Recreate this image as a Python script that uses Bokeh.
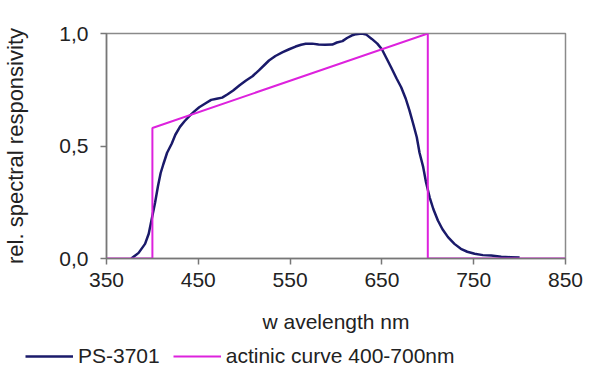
from bokeh.plotting import figure
from bokeh.layouts import column, row
from bokeh.models import FixedTicker, Legend, LegendItem
from bokeh.embed import file_html
from bokeh.resources import INLINE

# PS-3701 relative spectral responsivity
wl = [377, 385, 392, 396, 399, 403, 406, 409, 412, 416,
      421, 425, 430, 435, 441, 446, 451, 458, 464, 470,
      476, 482, 488, 495, 502, 509, 516, 522, 527, 534,
      542, 549, 556, 562, 567, 574, 581, 588, 596, 601,
      607, 612, 617, 622, 628, 633, 639, 645, 650, 655,
      660, 666, 671, 676, 680, 684, 688, 691, 695, 698,
      702, 706, 711, 716, 722, 729, 736, 743, 751, 760,
      769, 780, 790, 800]
resp = [0, 0.025, 0.065, 0.11, 0.17, 0.25, 0.32, 0.38, 0.42, 0.47,
        0.51, 0.55, 0.585, 0.61, 0.636, 0.655, 0.672, 0.69, 0.705, 0.71,
        0.715, 0.73, 0.747, 0.77, 0.791, 0.81, 0.836, 0.86, 0.88, 0.90,
        0.917, 0.93, 0.942, 0.95, 0.954, 0.955, 0.951, 0.95, 0.951, 0.96,
        0.966, 0.98, 0.991, 0.997, 1.0, 0.995, 0.976, 0.955, 0.93, 0.89,
        0.85, 0.80, 0.761, 0.71, 0.658, 0.60, 0.539, 0.47, 0.406, 0.34,
        0.272, 0.22, 0.169, 0.13, 0.095, 0.065, 0.043, 0.03, 0.021, 0.015,
        0.013, 0.008, 0.006, 0.004]

# actinic curve 400-700nm
act_wl = [350, 400, 400, 700, 700, 850]
act_val = [0, 0, 0.58, 1.0, 0, 0]

series_names = ["PS-3701", "actinic curve 400-700nm"]
x_ticks = [350, 450, 550, 650, 750, 850]
y_ticks = [0, 0.5, 1.0]
y_tick_labels = {0: "0,0", 0.5: "0,5", 1: "1,0"}

FONT = "Liberation Sans"
TXT = "#222222"
BLUE = "#1a1a6a"
MAGENTA = "#dd22dd"

p = figure(width=600, height=340, x_range=(350, 850), y_range=(0, 1),
           output_backend="svg", toolbar_location=None,
           min_border_left=103, min_border_right=35, min_border_top=33,
           min_border_bottom=82)

p.xgrid.visible = False
p.ygrid.visible = False
p.outline_line_color = "#8a8a8a"
p.outline_line_width = 1.5
p.background_fill_color = "white"
p.border_fill_color = "white"

p.line(wl, resp, line_color=BLUE, line_width=2.5)
p.line(act_wl, act_val, line_color=MAGENTA, line_width=2)

for ax in (p.xaxis[0], p.yaxis[0]):
    ax.axis_line_color = "#777777"
    ax.axis_line_width = 1.5
    ax.major_tick_line_color = "#777777"
    ax.major_tick_line_width = 1.5
    ax.major_tick_in = 0
    ax.major_tick_out = 6
    ax.minor_tick_line_color = None
    ax.major_label_text_font = FONT
    ax.major_label_text_font_size = "21px"
    ax.major_label_text_color = TXT
    ax.axis_label_text_font = FONT
    ax.axis_label_text_font_size = "21px"
    ax.axis_label_text_font_style = "normal"
    ax.axis_label_text_color = TXT

p.yaxis.axis_label_text_font_size = "22px"
p.xaxis.ticker = FixedTicker(ticks=x_ticks)
p.yaxis.ticker = FixedTicker(ticks=y_ticks)
p.yaxis.major_label_overrides = y_tick_labels
p.xaxis.major_label_standoff = 8
p.yaxis.major_label_standoff = 12
p.xaxis.axis_label = "w avelength nm"
p.yaxis.axis_label = "rel. spectral responsivity"
p.xaxis.axis_label_standoff = 20
p.yaxis.axis_label_standoff = 28

# legend strip below the chart (its own ranges keep the series out of view)
lg = figure(width=600, height=37, output_backend="svg", toolbar_location=None,
            x_axis_type=None, y_axis_type=None, min_border=0,
            x_range=(0, 1), y_range=(0, 1))
lg.outline_line_color = None
lg.xgrid.visible = False
lg.ygrid.visible = False
l1 = lg.line(wl, resp, line_color=BLUE, line_width=2.5)
l2 = lg.line(act_wl, act_val, line_color=MAGENTA, line_width=2)
legend = Legend(items=[LegendItem(label=series_names[0], renderers=[l1]),
                       LegendItem(label=series_names[1], renderers=[l2])],
                orientation="horizontal", location=(25, 9),
                label_text_font=FONT, label_text_font_size="21px",
                label_text_color=TXT, glyph_width=48, glyph_height=22,
                label_standoff=5, spacing=13, padding=0, margin=0,
                border_line_color=None, background_fill_alpha=0)
lg.add_layout(legend, "center")

layout = column(p, row(lg), spacing=0)
open("out.html", "w").write(file_html(layout, INLINE))
